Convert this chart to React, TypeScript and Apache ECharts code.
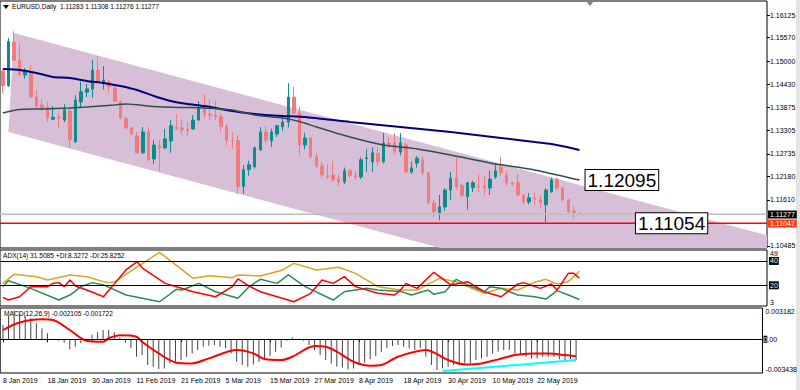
import React, { useEffect, useRef } from 'react';
import * as echarts from 'echarts';

const FONT = '"Liberation Sans", Arial, sans-serif';
const TOTAL_BARS = 137;
const LABEL_EVERY = 8;
const LAST_LABEL_BAR = 96;
const MONTHS = ['Jan', 'Feb', 'Mar', 'Apr', 'May', 'Jun', 'Jul', 'Aug', 'Sep', 'Oct', 'Nov', 'Dec'];

// daily candles [open, high, low, close]
const ohlc: number[][] = [
  [1.1476, 1.1478, 1.1422, 1.1440], [1.1440, 1.1556, 1.1437, 1.1548], [1.1546, 1.1573, 1.1500, 1.1502],
  [1.1502, 1.1544, 1.1464, 1.1466], [1.1466, 1.1483, 1.1457, 1.1476], [1.1469, 1.1490, 1.1410, 1.1412],
  [1.1412, 1.1430, 1.1385, 1.1390], [1.1393, 1.1407, 1.1378, 1.1385], [1.1388, 1.1400, 1.1351, 1.1363],
  [1.1358, 1.1390, 1.1356, 1.1363], [1.1363, 1.1373, 1.1337, 1.1361], [1.1356, 1.1395, 1.1351, 1.1381],
  [1.1378, 1.1386, 1.1288, 1.1308], [1.1303, 1.1417, 1.1300, 1.1405], [1.1400, 1.1449, 1.1388, 1.1425],
  [1.1424, 1.1444, 1.1412, 1.1432], [1.1432, 1.1503, 1.1410, 1.1478], [1.1478, 1.1512, 1.1447, 1.1449],
  [1.1446, 1.1488, 1.1430, 1.1454], [1.1449, 1.1454, 1.1422, 1.1437], [1.1434, 1.1440, 1.1400, 1.1402],
  [1.1400, 1.1405, 1.1358, 1.1361], [1.1359, 1.1366, 1.1334, 1.1337], [1.1337, 1.1339, 1.1320, 1.1322],
  [1.1317, 1.1327, 1.1273, 1.1276], [1.1276, 1.1339, 1.1273, 1.1327], [1.1327, 1.1339, 1.1256, 1.1259],
  [1.1261, 1.1307, 1.1249, 1.1295], [1.1293, 1.1307, 1.1232, 1.1288], [1.1288, 1.1334, 1.1285, 1.1310],
  [1.1305, 1.1356, 1.1276, 1.1342], [1.1339, 1.1371, 1.1332, 1.1334], [1.1337, 1.1356, 1.1320, 1.1332],
  [1.1334, 1.1351, 1.1315, 1.1330], [1.1334, 1.1368, 1.1332, 1.1356], [1.1356, 1.1402, 1.1354, 1.1385],
  [1.1387, 1.1420, 1.1360, 1.1370], [1.1370, 1.1408, 1.1355, 1.1368], [1.1368, 1.1404, 1.1355, 1.1364],
  [1.1364, 1.1373, 1.1326, 1.1340], [1.1340, 1.1347, 1.1294, 1.1307], [1.1307, 1.1326, 1.1285, 1.1306],
  [1.1306, 1.1319, 1.1176, 1.1194], [1.1194, 1.1246, 1.1176, 1.1235], [1.1235, 1.1257, 1.1220, 1.1247],
  [1.1242, 1.1292, 1.1238, 1.1288], [1.1283, 1.1339, 1.1281, 1.1327], [1.1327, 1.1342, 1.1300, 1.1307],
  [1.1305, 1.1335, 1.1290, 1.1327], [1.1322, 1.1345, 1.1315, 1.1342], [1.1340, 1.1360, 1.1330, 1.1351],
  [1.1351, 1.1446, 1.1338, 1.1412], [1.1412, 1.1437, 1.1370, 1.1374], [1.1374, 1.1388, 1.1271, 1.1295],
  [1.1295, 1.1325, 1.1285, 1.1312], [1.1312, 1.1315, 1.1262, 1.1266], [1.1266, 1.1275, 1.1240, 1.1244],
  [1.1244, 1.1254, 1.1215, 1.1222], [1.1220, 1.1248, 1.1212, 1.1217], [1.1222, 1.1255, 1.1205, 1.1210],
  [1.1212, 1.1222, 1.1195, 1.1205], [1.1205, 1.1240, 1.1200, 1.1232], [1.1232, 1.1235, 1.1215, 1.1220],
  [1.1220, 1.1232, 1.1210, 1.1217], [1.1217, 1.1265, 1.1212, 1.1259], [1.1262, 1.1285, 1.1229, 1.1264],
  [1.1254, 1.1290, 1.1229, 1.1276], [1.1274, 1.1290, 1.1245, 1.1254], [1.1254, 1.1325, 1.1250, 1.1300],
  [1.1300, 1.1315, 1.1290, 1.1296], [1.1300, 1.1324, 1.1270, 1.1278], [1.1278, 1.1324, 1.1270, 1.1300],
  [1.1295, 1.1300, 1.1226, 1.1229], [1.1229, 1.1255, 1.1225, 1.1239], [1.1251, 1.1268, 1.1240, 1.1263],
  [1.1259, 1.1268, 1.1220, 1.1227], [1.1227, 1.1230, 1.1150, 1.1154], [1.1154, 1.1161, 1.1118, 1.1132],
  [1.1130, 1.1173, 1.1111, 1.1144], [1.1144, 1.1190, 1.1135, 1.1185], [1.1185, 1.1229, 1.1160, 1.1214],
  [1.1215, 1.1265, 1.1186, 1.1193], [1.1196, 1.1200, 1.1165, 1.1172], [1.1169, 1.1205, 1.1137, 1.1203],
  [1.1191, 1.1208, 1.1180, 1.1203], [1.1195, 1.1225, 1.1180, 1.1193], [1.1195, 1.1220, 1.1173, 1.1190],
  [1.1190, 1.1232, 1.1173, 1.1212], [1.1217, 1.1249, 1.1212, 1.1232], [1.1241, 1.1266, 1.1220, 1.1227],
  [1.1222, 1.1232, 1.1195, 1.1203], [1.1203, 1.1205, 1.1195, 1.1200], [1.1203, 1.1224, 1.1170, 1.1173],
  [1.1173, 1.1173, 1.1150, 1.1156], [1.1156, 1.1178, 1.1150, 1.1166], [1.1166, 1.1180, 1.1148, 1.1163],
  [1.1161, 1.1173, 1.1141, 1.1154], [1.1149, 1.1190, 1.1107, 1.1185], [1.1181, 1.1215, 1.1178, 1.1210],
  [1.1212, 1.1215, 1.1185, 1.1190], [1.1190, 1.1193, 1.1158, 1.1161], [1.1161, 1.1163, 1.1130, 1.1132],
  [1.1134, 1.1146, 1.1116, 1.1130], [1.11283, 1.11308, 1.11276, 1.11277],
];

// moving averages read at [barIndex, price]
const maSlow: number[][] = [
  [0, 1.14807], [3, 1.14783], [6, 1.1471], [9, 1.14612], [12, 1.14588], [15, 1.14515], [18, 1.14466],
  [21, 1.14393], [24, 1.14295], [27, 1.14149], [30, 1.14027], [33, 1.13953], [36, 1.13904], [41, 1.1378],
  [45, 1.13709], [50, 1.13661], [54, 1.13636], [62, 1.13514], [71, 1.13392], [80, 1.1327], [89, 1.13124],
  [95, 1.13026], [98, 1.12977], [103, 1.12831],
];
const maFast: number[][] = [
  [0, 1.13734], [3, 1.13819], [7, 1.13831], [12, 1.13856], [15, 1.1388], [20, 1.13929], [22, 1.13953],
  [27, 1.13892], [32, 1.13868], [36, 1.13856], [41, 1.13807], [45, 1.13685], [48, 1.13636], [50, 1.13612],
  [53, 1.13526], [56, 1.13392], [62, 1.13148], [68, 1.12953], [74, 1.12855], [80, 1.12709], [87, 1.12514],
  [95, 1.12343], [103, 1.12095],
];

// ADX(14) lines [barIndex, value]
const adxLine: number[][] = [
  [0, 21.6], [2, 29.0], [6, 27.1], [8, 24.4], [12, 28.5], [15, 27.1], [18, 23.0], [19, 22.2], [20, 23.0],
  [28, 47.1], [34, 25.7], [37, 27.9], [41, 26.3], [42, 28.5], [46, 27.6], [50, 32.6], [52, 38.0], [56, 32.6],
  [60, 34.8], [63, 29.8], [67, 18.9], [71, 16.1], [74, 16.1], [78, 25.7], [81, 23.0], [83, 18.9], [86, 13.4],
  [89, 17.5], [92, 16.1], [95, 22.5], [97, 24.9], [99, 21.1], [101, 23.0], [103, 31.5085],
];
const minusDI: number[][] = [
  [0, 10.1], [1, 7.9], [3, 10.6], [5, 18.9], [8, 18.9], [9, 21.6], [10, 22.2], [11, 18.9], [12, 24.4],
  [13, 19.4], [15, 16.1], [18, 10.6], [19, 16.1], [20, 21.6], [22, 32.6], [24, 39.4], [25, 33.9], [29, 21.6],
  [34, 14.7], [38, 10.6], [41, 18.9], [42, 25.2], [44, 19.4], [46, 14.7], [52, 6.5], [55, 13.4], [57, 24.4],
  [59, 21.6], [61, 27.1], [63, 18.9], [67, 13.4], [70, 12.0], [71, 16.0], [72, 21.6], [74, 17.5], [77, 30.7],
  [80, 20.3], [83, 23.0], [86, 14.7], [89, 10.6], [92, 21.1], [93, 22.2], [96, 17.5], [98, 21.1], [99, 16.1],
  [101, 29.8], [102, 29.8], [103, 25.8252],
];
const plusDI: number[][] = [
  [0, 18.9], [1, 23.8], [5, 17.5], [10, 7.9], [12, 12.0], [14, 18.9], [16, 22.2], [18, 20.3], [22, 12.0],
  [28, 6.5], [31, 16.7], [32, 16.1], [35, 21.6], [38, 14.7], [42, 9.3], [44, 18.9], [46, 24.9], [49, 21.6],
  [51, 28.5], [54, 18.9], [59, 7.9], [61, 14.7], [65, 17.5], [67, 16.1], [71, 15.0], [73, 12.0], [76, 16.1],
  [77, 12.6], [79, 14.7], [81, 24.9], [83, 20.3], [86, 14.7], [87, 18.9], [89, 17.5], [92, 12.0], [95, 10.6],
  [97, 8.7], [99, 15.6], [101, 12.0], [103, 8.3272],
];

// MACD(12,26,9)
const macdHist: number[] = [
  0.00145, 0.00236, 0.0029, 0.0027, 0.00229, 0.00213, 0.00162, 0.00111, 0.0006, 0.00005,
  -0.00015, -0.00035, -0.00103, -0.00076, -0.00042, -0.00001, 0.00046, 0.0007, 0.00094, 0.00094,
  0.0007, 0.00019, -0.00035, -0.00093, -0.00178, -0.00161, -0.00263, -0.0028, -0.00304, -0.00297,
  -0.00246, -0.00229, -0.00212, -0.00178, -0.00144, -0.0011, -0.00076, -0.00066, -0.00059, -0.00076,
  -0.00093, -0.00144, -0.00229, -0.00263, -0.0028, -0.00256, -0.00229, -0.00212, -0.00171, -0.00127,
  -0.00083, -0.00015, 0.00019, -0.00008, -0.00015, -0.00059, -0.0011, -0.00161, -0.00212, -0.00246,
  -0.0028, -0.0029, -0.00307, -0.00297, -0.00263, -0.00239, -0.00205, -0.00171, -0.00127, -0.00093,
  -0.00069, -0.00059, -0.00076, -0.00093, -0.0011, -0.00093, -0.00178, -0.00263, -0.00314, -0.00297,
  -0.0028, -0.00263, -0.00263, -0.00246, -0.00246, -0.00212, -0.00195, -0.00178, -0.00144, -0.00127,
  -0.0011, -0.0011, -0.00144, -0.00161, -0.00178, -0.00195, -0.00195, -0.00178, -0.00178, -0.00178,
  -0.00205, -0.00212, -0.00205, -0.002105,
];
const macdSignal: number[][] = [
  [0, 0.00094], [3, 0.0017], [7, 0.00203], [9, 0.00196], [12, 0.00094], [15, -0.00015], [18, -0.00025],
  [19, 0.0001], [21, 0.0004], [24, 0.00026], [25, -0.00025], [28, -0.00144], [31, -0.00236], [34, -0.00246],
  [37, -0.00195], [42, -0.0011], [45, -0.00144], [47, -0.00202], [50, -0.00212], [52, -0.00178],
  [56, -0.00069], [58, -0.00076], [60, -0.00127], [63, -0.00229], [66, -0.0027], [68, -0.00263],
  [71, -0.00178], [76, -0.0011], [80, -0.00212], [83, -0.00256], [86, -0.00246], [89, -0.00205],
  [92, -0.00161], [95, -0.00144], [98, -0.00144], [101, -0.00161], [103, -0.001722],
];
const macdTrend: number[][] = [[79, -0.00324], [103, -0.00212]];

// axes / objects
const priceTicks = [1.16125, 1.1557, 1.15, 1.1443, 1.13875, 1.13305, 1.12735, 1.1218, 1.1161, 1.10485];
const priceRange = [1.10436, 1.16467];
const adxRange = [3, 49];
const adxLevels = [40, 20];
const macdRange = [-0.003438, 0.003182];
const channelUpper = [[2, 1.15686], [44, 1.14143]];
const channelLowerStart = [1, 1.1327];
const priceLines = [
  { price: 1.11277, color: '#BEBEBE', label: '1.11277', bg: '#000000' },
  { price: 1.11047, color: '#FF0000', label: '1.11047', bg: '#FF3C14' },
];
const textObjects = [
  { bar: 104, price: 1.12095, text: '1.12095' },
  { bar: 113, price: 1.1104, text: '1.11054' },
];

const categories: string[] = (() => {
  const out: string[] = [];
  const d = new Date(2019, 0, 8);
  while (out.length < TOTAL_BARS) {
    const wd = d.getDay();
    if (wd !== 0 && wd !== 6) out.push(`${d.getDate()} ${MONTHS[d.getMonth()]} ${d.getFullYear()}`);
    d.setDate(d.getDate() + 1);
  }
  return out;
})();

const showLabel = (i: number) => i % LABEL_EVERY === 0 && i <= LAST_LABEL_BAR;

function buildOption(): any {
  const gridBase = { left: 0, right: 33, show: true, borderColor: '#000', borderWidth: 1, backgroundColor: '#fff' };
  const small = { fontSize: 7, color: '#000', fontFamily: FONT };
  const xAxisBase = (gi: number, labels: boolean) => ({
    type: 'category', gridIndex: gi, data: categories, boundaryGap: true,
    axisLine: { show: false },
    axisTick: labels
      ? { show: true, alignWithLabel: true, interval: showLabel, length: 3, lineStyle: { color: '#000' } }
      : { show: false },
    axisLabel: labels
      ? { show: true, interval: showLabel, align: 'left', margin: 4, ...small }
      : { show: false },
    splitLine: { show: false },
  });
  const yBase = (gi: number, range: number[], vals: number[], va: string, fmt: (v: number) => string, tick = false) => ({
    type: 'value', gridIndex: gi, position: 'right', min: range[0], max: range[1], scale: true,
    axisLine: { show: false },
    splitLine: { show: false },
    axisTick: { show: tick, customValues: vals, length: 3, lineStyle: { color: '#000' } },
    axisLabel: { show: true, customValues: vals, verticalAlign: va, margin: 3, formatter: fmt, ...small },
  });

  return {
    animation: false,
    textStyle: { fontFamily: FONT },
    grid: [
      { ...gridBase, top: 1, height: 247 },
      { ...gridBase, top: 250, height: 56 },
      { ...gridBase, top: 308, height: 65 },
    ],
    xAxis: [xAxisBase(0, false), xAxisBase(1, false), xAxisBase(2, true)],
    yAxis: [
      yBase(0, priceRange, priceTicks, 'middle', (v) => v.toFixed(5), true),
      yBase(1, adxRange, [adxRange[1]], 'top', (v) => String(Math.round(v))),
      yBase(1, adxRange, [adxRange[0]], 'bottom', (v) => String(Math.round(v))),
      yBase(2, macdRange, [macdRange[1]], 'top', (v) => v.toFixed(6)),
      yBase(2, macdRange, [macdRange[0]], 'bottom', (v) => v.toFixed(6)),
    ],
    graphic: [
      { type: 'polygon', shape: { points: [[3, 5], [9, 5], [6, 9]] }, style: { fill: '#000' } },
      { type: 'text', left: 12, top: 3, style: { text: 'EURUSD,Daily  1.11283 1.11308 1.11276 1.11277', fontSize: 6.6, fill: '#000', fontFamily: FONT } },
      { type: 'polygon', shape: { points: [[586, 1], [594, 1], [590, 6]] }, style: { fill: '#808080' } },
      { type: 'text', left: 3, top: 252, style: { text: 'ADX(14) 31.5085 +DI:8.3272 -DI:25.8252', fontSize: 6.6, fill: '#000', fontFamily: FONT } },
      { type: 'text', left: 4, top: 310, style: { text: 'MACD(12,26,9) -0.002105 -0.001722', fontSize: 6.6, fill: '#000', fontFamily: FONT } },
      { type: 'rect', shape: { x: 796, y: 0, width: 4, height: 390 }, style: { fill: '#E4E4E4' } },
    ],
    series: [
      {
        type: 'custom', xAxisIndex: 0, yAxisIndex: 0, silent: true, z: 1,
        data: [[0, channelLowerStart[1]]],
        renderItem: (params: any, api: any) => {
          const cs = params.coordSys;
          const p1 = api.coord(channelUpper[0]);
          const p2 = api.coord(channelUpper[1]);
          const l1 = api.coord(channelLowerStart);
          const slope = (p2[1] - p1[1]) / (p2[0] - p1[0]);
          const xr = cs.x + cs.width;
          const bottom = cs.y + cs.height;
          const ur = [xr, p1[1] + slope * (xr - p1[0])];
          const lrY = l1[1] + slope * (xr - l1[0]);
          const pts: number[][] = [p1, ur];
          if (lrY > bottom) {
            const xb = l1[0] + (bottom - l1[1]) / slope;
            pts.push([xr, bottom], [xb, bottom]);
          } else {
            pts.push([xr, lrY]);
          }
          pts.push(l1);
          return { type: 'polygon', shape: { points: pts }, style: { fill: '#D8BFD8', stroke: 'none', lineWidth: 0 } };
        },
      },
      {
        type: 'custom', xAxisIndex: 0, yAxisIndex: 0, silent: true, z: 5,
        data: priceLines.map((p, i) => [0, p.price, i]),
        renderItem: (params: any, api: any) => {
          const cs = params.coordSys;
          const pl = priceLines[api.value(2)];
          const yc = api.coord([0, api.value(1)])[1];
          const y = Math.round(yc);
          return {
            type: 'group',
            children: [
              { type: 'rect', shape: { x: cs.x, y: y - 0.5, width: cs.width, height: 1.5 }, style: { fill: pl.color, stroke: 'none', lineWidth: 0 } },
              {
                type: 'text', z2: 50,
                style: {
                  text: pl.label, x: cs.x + cs.width + 1, y: y + 0.5, verticalAlign: 'middle', align: 'left',
                  fill: '#fff', backgroundColor: pl.bg, padding: [1, 2, 0, 2], fontSize: 7, fontFamily: FONT,
                },
              },
            ],
          };
        },
      },
      {
        type: 'candlestick', xAxisIndex: 0, yAxisIndex: 0, z: 3, barWidth: 3,
        data: ohlc.map(([o, h, l, c]) => [o, c, l, h]),
        itemStyle: { color: '#0E8C8C', color0: '#F07C7C', borderColor: '#0E8C8C', borderColor0: '#F07C7C', borderWidth: 1 },
        markPoint: {
          silent: true, symbol: 'rect', symbolSize: 1, itemStyle: { color: 'rgba(0,0,0,0)' },
          label: {
            show: true, position: 'right', distance: 0, formatter: '{b}', fontSize: 19, fontFamily: FONT, color: '#000',
            backgroundColor: '#fff', borderColor: '#000', borderWidth: 1, padding: [1, 2, 0, 2],
          },
          data: textObjects.map((t) => ({ name: t.text, coord: [t.bar, t.price] })),
        },
      },
      { type: 'line', xAxisIndex: 0, yAxisIndex: 0, z: 4, data: maSlow, showSymbol: false, smooth: 0.2, lineStyle: { color: '#000080', width: 2 } },
      { type: 'line', xAxisIndex: 0, yAxisIndex: 0, z: 4, data: maFast, showSymbol: false, smooth: 0.2, lineStyle: { color: '#2F4F4F', width: 1.5 } },
      {
        type: 'line', xAxisIndex: 1, yAxisIndex: 1, z: 3, data: adxLine, showSymbol: false, lineStyle: { color: '#DAA520', width: 1.5 },
        markLine: {
          silent: true, symbol: ['none', 'none'], animation: false,
          lineStyle: { color: '#000', type: 'solid', width: 1 },
          label: { show: true, position: 'end', distance: 2, fontSize: 7, fontFamily: FONT, color: '#fff', backgroundColor: '#000', padding: [1, 1, 0, 1], formatter: '{c}' },
          data: adxLevels.map((v) => ({ yAxis: v })),
        },
      },
      { type: 'line', xAxisIndex: 1, yAxisIndex: 1, z: 3, data: plusDI, showSymbol: false, lineStyle: { color: '#2E8B57', width: 1.5 } },
      { type: 'line', xAxisIndex: 1, yAxisIndex: 1, z: 4, data: minusDI, showSymbol: false, lineStyle: { color: '#FF0000', width: 1.5 } },
      {
        type: 'bar', xAxisIndex: 2, yAxisIndex: 3, z: 2, data: macdHist, barWidth: 1, itemStyle: { color: '#444' },
        markLine: {
          silent: true, symbol: ['none', 'none'], animation: false,
          lineStyle: { color: '#000', type: 'solid', width: 1 },
          label: {
            show: true, position: 'end', distance: 1, fontSize: 7, fontFamily: FONT, color: '#000',
            formatter: '{a|0}.00', rich: { a: { color: '#fff', backgroundColor: '#000', fontSize: 7, fontFamily: FONT } },
          },
          data: [{ yAxis: 0 }],
        },
      },
      { type: 'line', xAxisIndex: 2, yAxisIndex: 3, z: 4, data: macdSignal, showSymbol: false, smooth: 0.3, lineStyle: { color: '#FF0000', width: 2 } },
      { type: 'line', xAxisIndex: 2, yAxisIndex: 3, z: 5, data: macdTrend, showSymbol: false, lineStyle: { color: '#00FFFF', width: 2 } },
    ],
  };
}

export default function App() {
  const ref = useRef<HTMLDivElement>(null);
  useEffect(() => {
    if (!ref.current) return;
    const chart = echarts.init(ref.current, null, { renderer: 'svg' });
    chart.setOption(buildOption());
    return () => chart.dispose();
  }, []);
  return (
    <div
      ref={ref}
      style={{ position: 'fixed', left: 0, top: 0, width: 800, height: 390, background: '#fff' }}
    />
  );
}
